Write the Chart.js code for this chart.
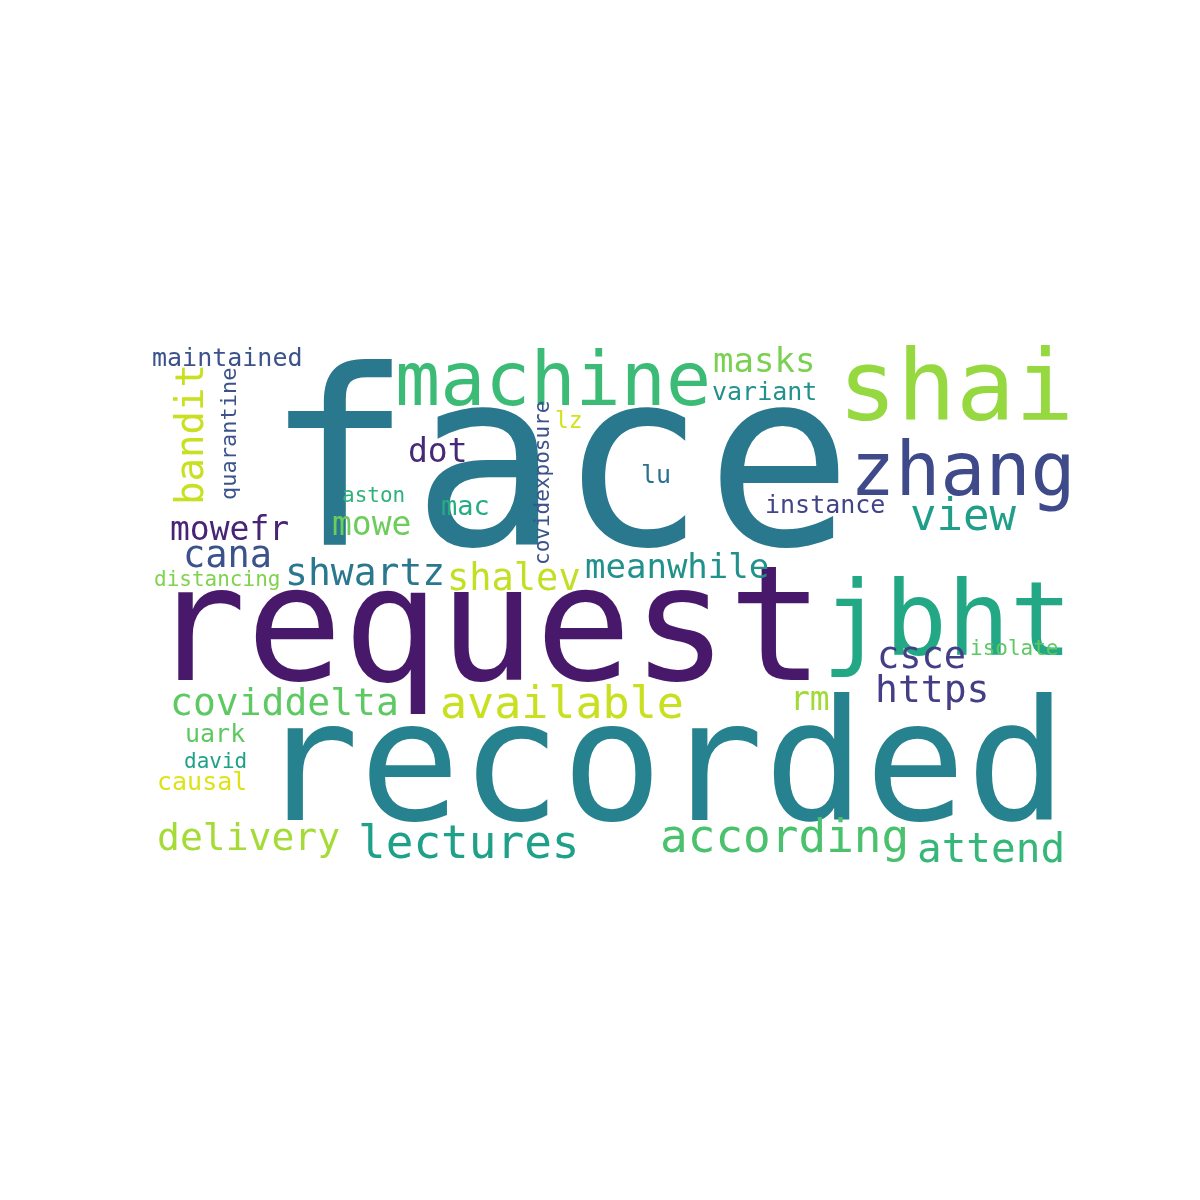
<!DOCTYPE html>
<html><head><meta charset="utf-8">
<script src="https://cdn.jsdelivr.net/npm/chart.js@4"></script>
<style>html,body{margin:0;padding:0;background:#fff}#wrap{width:1200px;height:1200px}</style>
</head><body><div id="wrap"><canvas id="c"></canvas></div>
<script>
const words = ["face","request","recorded","machine","shai","zhang","jbht","view","masks","variant","maintained","bandit","quarantine","dot","lz","covidexposure","lu","aston","mac","instance","mowefr","mowe","cana","distancing","shwartz","shalev","meanwhile","csce","isolate","https","rm","coviddelta","available","uark","david","causal","delivery","lectures","according","attend"];
const xs = [265,150,258,395,838,850,822,910,713,712,152,203,236,408,555,549,641,342,441,765,170,332,183,154,285,447,585,877,970,875,790,170,440,185,184,157,157,358,660,917];
const ys = [545,680,820,405,420,495,655,530,372,400,366,505,500,462,428,565,483,502,515,513,540,535,567,586,585,590,578,668,655,702,710,715,718,742,768,790,850,858,852,862];
const sizes = [244,160,168,75,98,75,104,44,34,25,25,39,22,33,23,21,25,21,27,25,33,33,37,21,38,37,34,37,21,38,33,38,45,25,21,25,38,46,46,41];
const vertical = [0,0,0,0,0,0,0,0,0,0,0,1,1,0,0,1,0,0,0,0,0,0,0,0,0,0,0,0,0,0,0,0,0,0,0,0,0,0,0,0];
const colors = ["#2a788e","#48186a","#26828e","#3bbb75","#95d840","#3e4a89","#22a884","#1f9e89","#7ad151","#21918c","#3b528b","#c8e020","#3b528b","#482878","#d2e21b","#3b528b","#2c728e","#2db27d","#25ac82","#414487","#482475","#6ccd5a","#3b528b","#7fd34e","#2a788e","#c2df23","#21918c","#433e85","#5ec962","#433e85","#a0da39","#5ec962","#c8e020","#5ec962","#1fa187","#dde318","#a5db36","#1fa088","#4ac16d","#35b779"];

const wordPlugin = {
  id:'words',
  afterDatasetsDraw(chart){
    const ctx = chart.ctx;
    const meta = chart.getDatasetMeta(0);
    meta.data.forEach((el,i)=>{
      ctx.save();
      ctx.translate(el.x, el.y);
      if (vertical[i]) ctx.rotate(-Math.PI/2);
      ctx.font = sizes[i] + 'px "DejaVu Sans Mono"';
      ctx.fillStyle = colors[i];
      ctx.textAlign = 'left';
      ctx.textBaseline = 'alphabetic';
      ctx.fillText(words[i], 0, 0);
      ctx.restore();
    });
  }
};

new Chart(document.getElementById('c'), {
  type:'scatter',
  data:{datasets:[{data: xs.map((x,i)=>({x:x,y:ys[i]})), pointRadius:0}]},
  options:{
    responsive:true, maintainAspectRatio:false, animation:false,
    layout:{padding:0},
    plugins:{legend:{display:false},tooltip:{enabled:false}},
    scales:{
      x:{type:'linear',min:0,max:1200,display:false},
      y:{type:'linear',min:0,max:1200,reverse:true,display:false}
    }
  },
  plugins:[wordPlugin]
});
</script></body></html>
